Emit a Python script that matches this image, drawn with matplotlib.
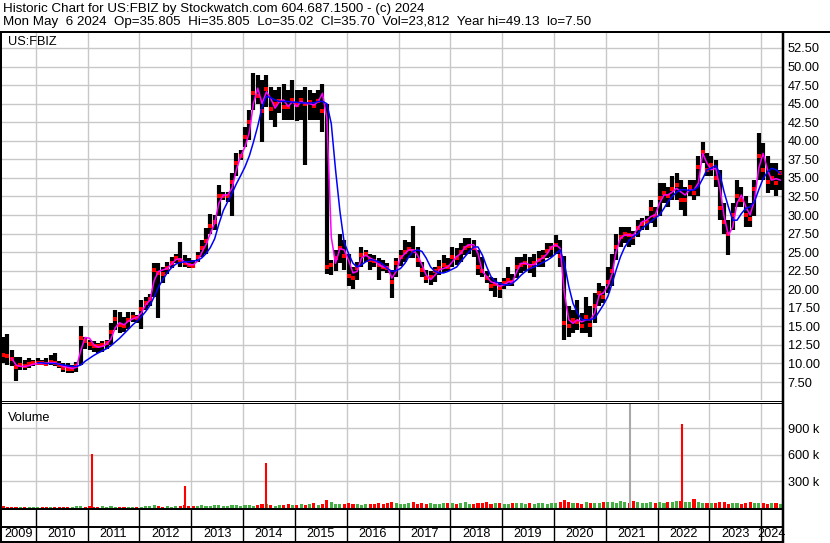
import numpy as np
import pandas as pd
import matplotlib
matplotlib.use('Agg')
import matplotlib.pyplot as plt
from matplotlib.lines import Line2D
from datetime import datetime

plt.rcParams['font.family'] = ['Liberation Sans', 'DejaVu Sans']
plt.rcParams['font.size'] = 9.2

# %% data (monthly)
months = pd.date_range('2009-05-01', '2024-05-01', freq='MS') + pd.Timedelta(days=14)

high = [
    13.6, 14.0, 11.8, 10.9, 10.9, 10.5, 10.7, 10.5,
    10.7, 10.5, 10.7, 11.1, 11.4, 10.3, 10.0, 10.0, 9.8, 10.2, 15.0, 13.6,
    13.2, 13.0, 12.7, 13.0, 13.2, 15.4, 17.2, 17.0, 16.3, 17.0, 17.0, 16.5,
    18.6, 19.0, 19.4, 23.5, 23.5, 23.0, 23.7, 24.4, 24.8, 26.3, 24.6, 24.2,
    23.9, 25.0, 26.6, 28.2, 30.2, 30.0, 34.0, 33.1, 33.1, 35.6, 38.3, 38.8,
    41.9, 44.1, 49.1, 48.9, 48.2, 48.9, 47.3, 46.8, 47.3, 47.7, 46.8, 48.2,
    46.8, 46.8, 47.3, 46.8, 46.4, 46.8, 47.7, 45.0, 23.9, 25.3, 27.5, 26.6,
    24.8, 23.0, 23.7, 25.7, 25.3, 24.8, 24.6, 24.2, 23.9, 23.5, 22.6, 24.2,
    25.3, 26.6, 26.4, 28.5, 25.7, 23.7, 22.6, 22.4, 23.0, 23.9, 24.6, 24.2,
    25.7, 25.5, 26.2, 26.9, 26.9, 26.6, 25.3, 24.4, 22.4, 21.7, 21.5, 21.0,
    21.5, 23.0, 22.0, 24.4, 24.4, 24.8, 24.4, 24.8, 25.1, 25.3, 26.2, 26.2,
    27.3, 26.6, 24.5, 17.7, 17.2, 18.6, 16.8, 19.0, 17.7, 19.5, 20.8, 20.4,
    23.0, 24.8, 27.5, 28.4, 28.4, 28.4, 27.9, 29.3, 29.6, 29.8, 32.0, 31.1,
    34.3, 34.3, 33.8, 35.2, 35.6, 34.7, 33.8, 34.7, 34.7, 37.9, 39.9, 38.3,
    37.9, 37.4, 36.1, 31.6, 29.3, 31.6, 34.7, 33.8, 32.5, 31.6, 34.7, 41.0,
    39.7, 37.9, 37.0, 37.0, 36.1,
]
low = [
    10.0, 9.8, 9.6, 7.6, 9.1, 9.1, 9.4, 9.6,
    9.8, 9.8, 9.6, 9.8, 9.6, 9.4, 8.9, 8.7, 8.7, 8.9, 9.8, 12.0,
    11.8, 11.6, 11.4, 11.6, 12.0, 12.5, 14.5, 14.1, 14.3, 14.7, 15.6, 15.4,
    14.7, 17.2, 17.7, 19.0, 16.1, 20.8, 22.1, 22.8, 23.5, 23.0, 23.0, 22.8,
    22.8, 23.7, 24.4, 24.8, 27.5, 28.0, 29.8, 32.0, 31.8, 29.8, 35.2, 37.4,
    39.2, 40.1, 44.1, 45.0, 39.9, 44.6, 42.8, 41.9, 43.7, 42.8, 42.8, 42.8,
    42.6, 42.8, 36.7, 42.8, 42.8, 42.8, 41.2, 22.0, 21.9, 22.4, 23.5, 22.6,
    20.4, 20.1, 21.3, 23.0, 23.7, 22.6, 23.0, 21.3, 22.4, 22.2, 18.8, 21.7,
    23.1, 23.7, 24.2, 24.2, 23.0, 21.7, 20.8, 20.6, 21.0, 21.9, 22.2, 22.4,
    23.0, 23.3, 23.7, 24.6, 24.8, 24.4, 21.9, 21.7, 20.8, 19.7, 19.0, 18.8,
    20.1, 20.4, 20.4, 21.5, 22.2, 22.4, 22.2, 21.7, 23.0, 23.0, 24.2, 24.4,
    24.8, 23.0, 13.2, 13.6, 14.1, 14.5, 14.1, 14.1, 13.6, 15.4, 17.7, 18.1,
    19.5, 20.4, 23.9, 25.7, 26.2, 25.7, 26.0, 27.1, 28.0, 28.0, 28.9, 28.4,
    29.8, 31.6, 31.1, 32.0, 32.0, 30.7, 29.8, 32.5, 32.0, 32.5, 37.0, 35.2,
    35.2, 33.8, 29.3, 27.5, 24.6, 28.0, 31.1, 31.1, 28.4, 28.4, 29.8, 34.7,
    34.7, 33.0, 33.4, 32.5, 33.4,
]
close = [
    11.1, 11.0, 10.6, 9.5, 9.8, 9.7, 9.9, 10.0,
    10.1, 10.0, 9.9, 10.2, 10.1, 9.8, 9.4, 9.3, 9.3, 9.6, 13.4, 13.0,
    12.6, 12.4, 12.3, 12.5, 12.8, 14.2, 16.0, 15.2, 15.0, 15.8, 16.2, 16.1,
    17.3, 18.1, 18.7, 22.6, 22.2, 22.1, 22.9, 23.6, 24.2, 23.9, 23.5, 23.3,
    23.1, 24.4, 25.6, 26.5, 28.5, 29.0, 32.5, 32.5, 32.6, 34.5, 37.0, 38.0,
    40.5, 42.5, 46.5, 46.0, 44.0, 47.0, 44.3, 45.0, 45.3, 44.6, 44.5, 45.5,
    44.8, 45.5, 45.0, 45.2, 44.7, 45.3, 44.0, 23.0, 23.2, 24.2, 25.5, 24.5,
    21.8, 21.5, 22.8, 24.6, 24.7, 23.9, 23.8, 23.2, 23.0, 22.8, 21.0, 23.5,
    24.3, 25.0, 25.4, 25.2, 24.0, 22.6, 21.5, 21.7, 22.5, 22.8, 23.2, 23.0,
    24.3, 24.2, 25.0, 25.6, 25.8, 25.5, 23.0, 22.5, 21.5, 20.5, 20.7, 20.2,
    20.8, 21.3, 21.0, 23.0, 23.2, 23.5, 23.0, 23.5, 24.0, 24.3, 25.2, 25.5,
    26.0, 24.5, 15.5, 15.0, 15.8, 15.6, 15.0, 16.2, 15.2, 17.7, 19.5, 19.0,
    21.0, 22.5, 25.7, 27.0, 27.5, 27.3, 27.0, 28.3, 28.8, 29.0, 30.8, 29.8,
    32.3, 33.0, 32.5, 33.5, 34.0, 32.0, 32.0, 33.8, 33.0, 36.5, 38.5, 36.0,
    36.8, 35.0, 31.0, 29.0, 27.5, 30.0, 32.5, 32.0, 30.0, 29.5, 33.5, 38.0,
    36.0, 34.5, 35.0, 34.3, 35.7,
]
# magenta (short) and blue (long) moving averages as drawn
ma_fast = [
    np.nan, np.nan, 10.7, 9.8, 9.6, 9.6, 9.7, 9.9,
    10.0, 10.0, 10.0, 10.1, 10.1, 9.9, 9.6, 9.5, 9.3, 9.5, 11.8, 13.5,
    13.4, 12.5, 12.2, 12.3, 12.6, 13.3, 14.8, 15.5, 15.2, 15.7, 16.0, 16.2,
    16.8, 17.9, 18.5, 21.2, 22.4, 22.6, 22.8, 23.4, 24.0, 24.1, 23.7, 23.3,
    23.3, 23.8, 24.9, 26.0, 27.5, 28.9, 31.6, 32.7, 32.7, 33.6, 36.1, 37.9,
    39.2, 41.2, 45.0, 47.1, 45.0, 46.6, 45.7, 44.4, 45.3, 45.5, 44.6, 45.3,
    44.6, 45.3, 45.0, 45.0, 44.8, 45.3, 46.4, 43.0, 27.0, 23.5, 25.5, 25.3,
    23.9, 22.2, 22.4, 24.2, 24.6, 24.2, 23.9, 23.3, 23.0, 23.0, 21.5, 22.4,
    24.2, 24.8, 25.3, 25.3, 24.6, 23.3, 21.9, 21.3, 21.9, 22.6, 22.8, 23.0,
    23.7, 24.4, 24.8, 25.7, 26.0, 26.0, 24.8, 22.4, 21.7, 21.0, 20.8, 20.4,
    20.6, 21.0, 21.0, 22.4, 23.5, 23.5, 23.3, 23.3, 23.9, 24.2, 24.8, 25.7,
    26.0, 25.5, 19.5, 15.9, 15.4, 15.9, 15.6, 15.9, 15.9, 16.8, 19.2, 19.5,
    20.4, 22.1, 25.1, 26.9, 27.3, 27.3, 27.3, 28.2, 29.1, 29.3, 29.8, 30.0,
    31.6, 32.7, 32.7, 33.1, 33.6, 33.1, 32.7, 33.4, 33.4, 34.3, 38.3, 37.0,
    36.1, 36.3, 33.8, 29.8, 27.3, 28.4, 31.6, 32.7, 31.1, 30.0, 32.0, 36.3,
    38.3, 36.1, 34.7, 34.9, 34.7,
]
ma_slow = [
    np.nan, np.nan, np.nan, np.nan, np.nan, np.nan, np.nan, np.nan,
    10.1, 10.1, 10.0, 10.0, 10.0, 9.9, 9.8, 9.7, 9.6, 9.6, 9.8, 10.3,
    10.7, 11.1, 11.4, 11.7, 12.0, 12.4, 12.9, 13.4, 14.0, 14.6, 15.2, 15.7,
    16.3, 17.0, 17.8, 19.0, 20.3, 21.3, 22.2, 22.9, 23.4, 23.6, 23.7, 23.7,
    23.8, 23.9, 24.2, 24.8, 25.6, 26.8, 28.8, 30.6, 31.8, 32.9, 34.2, 35.3,
    36.5, 38.0, 39.8, 42.0, 44.5, 46.0, 45.8, 45.5, 45.3, 45.3, 45.3, 45.2,
    45.2, 45.1, 45.1, 45.1, 45.1, 45.3, 45.3, 45.0, 42.3, 36.1, 30.5, 26.3,
    24.8, 23.5, 23.0, 23.3, 23.7, 24.0, 23.9, 23.7, 23.3, 22.8, 22.4, 22.5,
    22.8, 23.5, 24.4, 25.1, 25.3, 25.1, 24.2, 23.0, 22.4, 22.2, 22.2, 22.4,
    22.7, 23.0, 23.7, 24.4, 25.1, 25.7, 25.7, 24.6, 23.0, 21.7, 21.0, 20.8,
    20.6, 20.6, 20.8, 21.3, 21.9, 22.4, 22.8, 23.0, 23.3, 23.6, 23.9, 24.3,
    24.8, 25.3, 23.5, 20.4, 18.1, 16.8, 15.9, 15.9, 15.9, 16.1, 17.0, 17.9,
    19.0, 20.8, 22.6, 24.4, 25.7, 26.6, 27.1, 27.5, 28.2, 28.7, 29.1, 29.6,
    30.0, 30.9, 31.8, 32.5, 33.1, 33.4, 33.4, 33.3, 33.4, 33.8, 34.9, 36.1,
    36.3, 36.7, 35.6, 33.1, 31.1, 29.3, 29.3, 30.2, 30.9, 31.1, 31.8, 33.4,
    34.9, 35.8, 36.3, 36.1, 35.6,
]
# typical daily volume per month, thousands
volume = [
    14, 12, 8, 6, 9, 7, 6, 8,
    6, 7, 5, 8, 10, 7, 9, 6, 12, 18, 14, 10,
    16, 12, 10, 20, 11, 14, 12, 9, 10, 8, 12, 10,
    12, 22, 15, 30, 18, 12, 14, 10, 16, 25, 28, 18,
    20, 15, 30, 25, 22, 35, 28, 20, 25, 32, 30, 22,
    28, 35, 25, 30, 40, 38, 30, 25, 35, 28, 45, 30,
    35, 40, 30, 45, 55, 35, 40, 85, 60, 45, 40, 38,
    50, 45, 42, 35, 40, 45, 38, 55, 42, 50, 65, 48,
    45, 40, 55, 60, 45, 50, 40, 55, 45, 40, 48, 52,
    55, 45, 50, 60, 45, 40, 55, 50, 65, 45, 50, 55,
    45, 40, 50, 48, 55, 42, 50, 45, 55, 48, 45, 50,
    55, 60, 85, 65, 50, 55, 45, 60, 50, 55, 52, 60,
    65, 70, 55, 80, 60, 55, 75, 60, 50, 55, 60, 58,
    60, 55, 65, 70, 75, 80, 70, 60, 95, 60, 55, 50,
    55, 50, 65, 60, 45, 55, 50, 45, 55, 60, 50, 55,
    50, 45, 55, 48, 40,
]
spike_dates = pd.to_datetime(['2011-01-31', '2012-11-20', '2014-06-13', '2021-06-18', '2022-06-21'])
spike_vols = [611, 240, 509, 1180, 941]
spike_colors = ['#ff0000', '#ff0000', '#ff0000', '#a8a8a8', '#ff0000']

header1 = 'Historic Chart for US:FBIZ by Stockwatch.com 604.687.1500 - (c) 2024'
header2 = ('Mon May  6 2024  Op=35.805  Hi=35.805  Lo=35.02  Cl=35.70  '
           'Vol=23,812  Year hi=49.13  lo=7.50')
price_ticks = np.arange(7.5, 53, 2.5)
vol_ticks = [300, 600, 900]
years = list(range(2009, 2025))

# %% figure
W, H = 830, 543
fig = plt.figure(figsize=(W / 100, H / 100), dpi=100)
GRID = '#c8c8c8'
x_start, x_end = datetime(2009, 5, 8), datetime(2024, 5, 27)
year_lines = [datetime(y, 1, 1) for y in years[1:]]


def px_axes(x0, y0, x1, y1):
    a = fig.add_axes([x0 / W, 1 - y1 / H, (x1 - x0) / W, (y1 - y0) / H])
    for s in a.spines.values():
        s.set_visible(False)
    a.set_xlim(x_start, x_end)
    return a


def px_line(x0, y0, x1, y1, lw=1.0):
    fig.add_artist(Line2D([x0 / W, x1 / W], [1 - y0 / H, 1 - y1 / H],
                          transform=fig.transFigure, color='black',
                          lw=lw * 0.72, solid_capstyle='butt'))


# price panel
ax = px_axes(2, 33, 782, 400)
ax.set_ylim(5.08, 54.52)
ax.set_xticks(year_lines)
ax.set_yticks(price_ticks)
ax.set_yticklabels([f'{v:.2f}' for v in price_ticks])
ax.yaxis.tick_right()
ax.tick_params(axis='y', length=0, pad=4, labelsize=9.2)
ax.tick_params(axis='x', length=0, labelbottom=False)
ax.grid(True, color=GRID, lw=1.0)
ax.set_axisbelow(True)

ax.vlines(months, low, high, color='black', lw=3.0)
ax.plot(months, close, 's', color='#ff0000', ms=2.2, mew=0)
ax.plot(months, ma_fast, color='#ff00ff', lw=1.1)
ax.plot(months, ma_slow, color='#0000ff', lw=1.1)
ax.text(6 / 780, 0.975, 'US:FBIZ', transform=ax.transAxes, va='center', fontsize=9.2)

# volume panel
axv = px_axes(2, 403, 782, 508)
axv.set_ylim(-3, 1183)
axv.set_xticks(year_lines)
axv.set_yticks(vol_ticks)
axv.set_yticklabels([f'{v} k' for v in vol_ticks])
axv.yaxis.tick_right()
axv.tick_params(axis='y', length=0, pad=4, labelsize=9.2)
axv.tick_params(axis='x', length=0, labelbottom=False)
axv.grid(True, color=GRID, lw=1.0)
axv.set_axisbelow(True)

vol_colors = ['#ff0000'] + ['#44b044' if c >= p else '#ff0000'
                            for p, c in zip(close[:-1], close[1:])]
axv.bar(months, volume, width=22, color=vol_colors, lw=0)
axv.vlines(spike_dates, 0, spike_vols, colors=spike_colors, lw=1.5)
axv.text(6 / 780, 0.86, 'Volume', transform=axv.transAxes, va='center', fontsize=9.2)

# date strip
axd = px_axes(2, 509, 782, 541)
axd.set_ylim(0, 1)
axd.set_xticks([])
axd.set_yticks([])
for d in year_lines:
    axd.axvline(d, color='black', lw=1.0)
axd.axhline(14 / 32, color='black', lw=1.4)
for y in years:
    a = max(datetime(y, 1, 1), x_start)
    b = min(datetime(y + 1, 1, 1), x_end)
    axd.text(a + (b - a) / 2, 0.22, str(y), ha='center', va='center', fontsize=9.2)

# frame lines
px_line(0, 32, W, 32, lw=2)
px_line(1, 32, 1, H, lw=2)
px_line(783, 32, 783, H, lw=2.5)
px_line(0, 400.5, 783, 400.5, lw=1)
px_line(0, 402.5, 783, 402.5, lw=1)
px_line(0, 509, 783, 509, lw=2)
px_line(0, 541.5, 783, 541.5, lw=2)

fig.text(3 / W, 1 - 9 / H, header1, va='center', fontsize=9.6)
fig.text(3 / W, 1 - 22.5 / H, header2, va='center', fontsize=9.6)

fig.savefig('out.png', dpi=100)
